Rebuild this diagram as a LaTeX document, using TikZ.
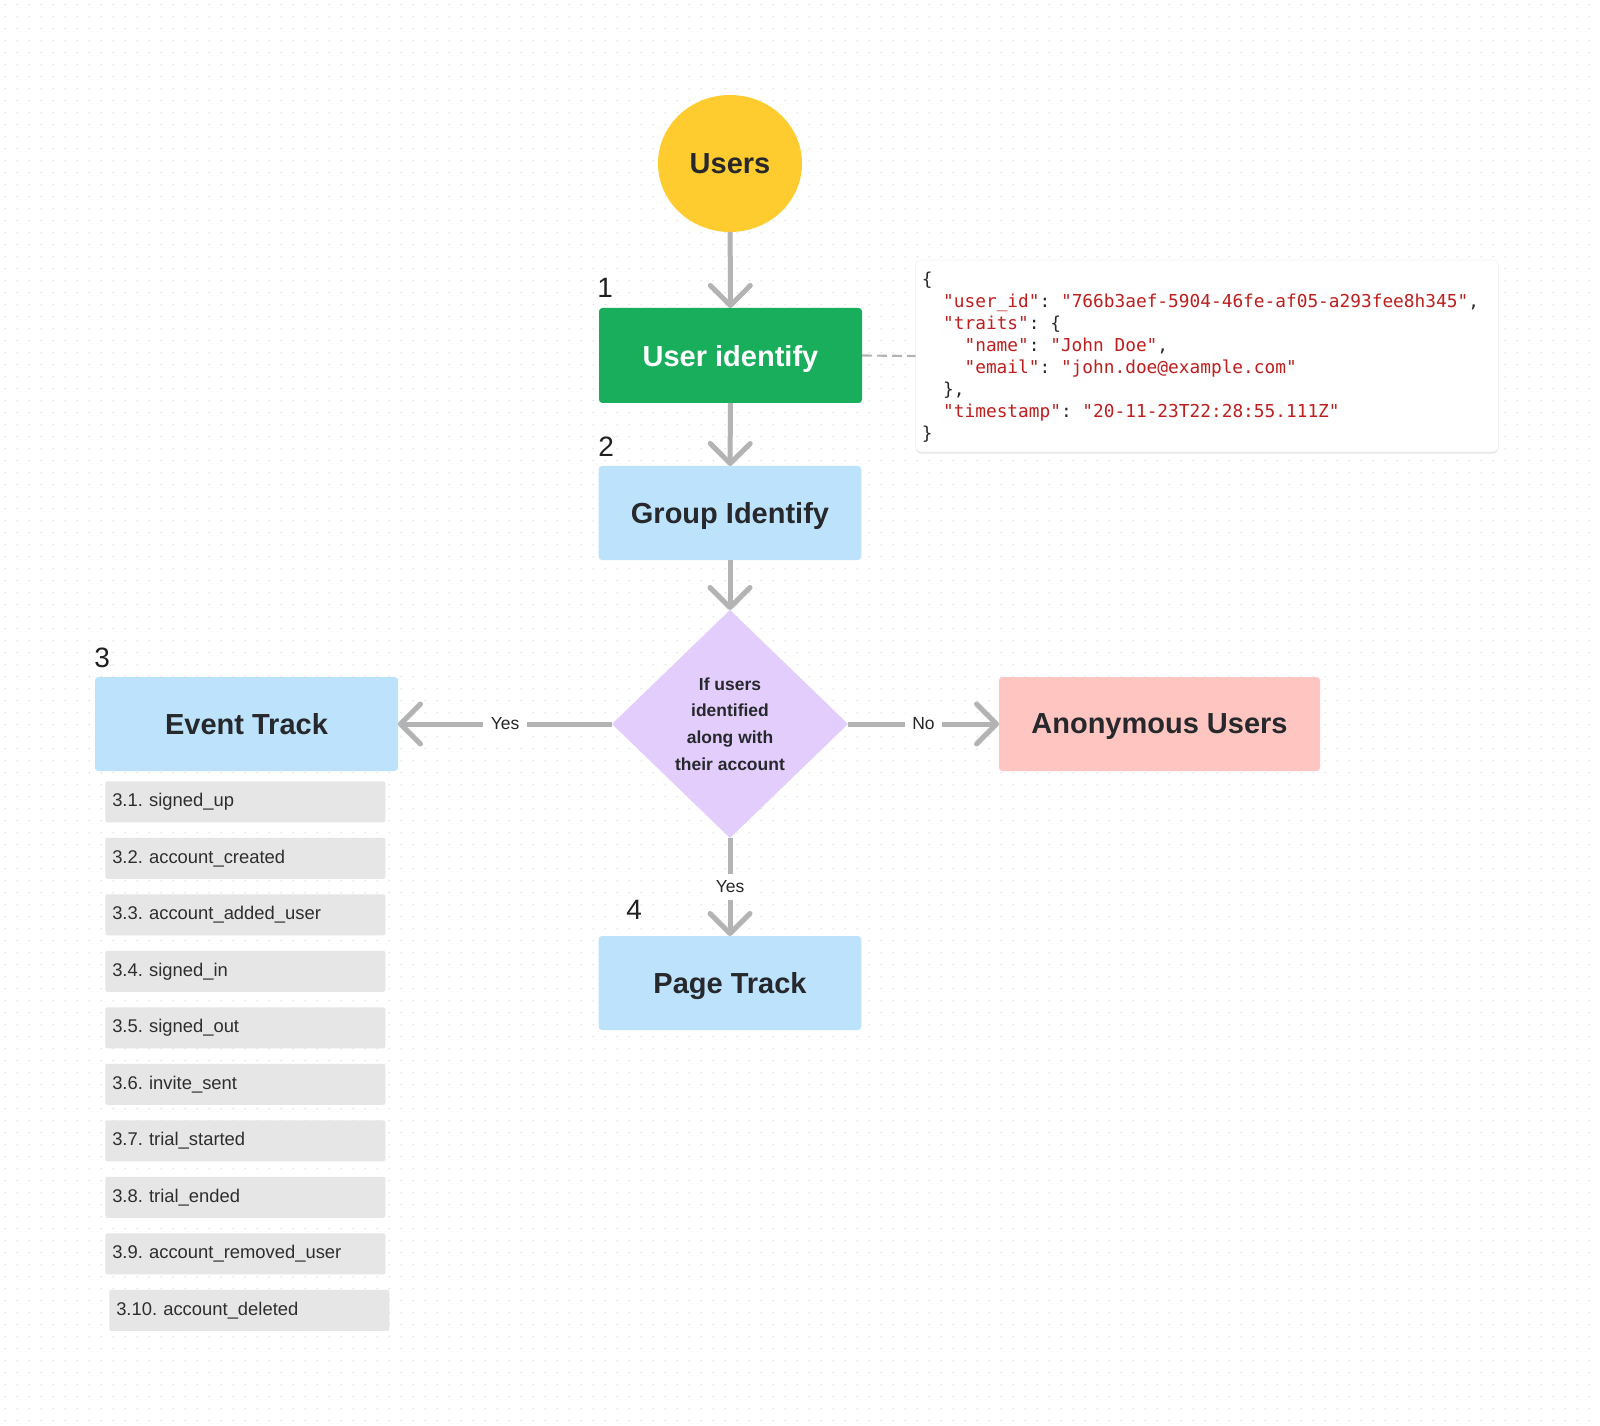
\documentclass[tikz,border=0pt]{standalone}
\usepackage{fontspec}
\setmainfont{Liberation Sans}
\setmonofont{DejaVu Sans Mono}
\usetikzlibrary{arrows.meta,shapes.geometric,shadows,patterns}
\frenchspacing

\definecolor{usersyellow}{RGB}{254,204,46}
\definecolor{idgreen}{RGB}{24,174,92}
\definecolor{trackblue}{RGB}{189,227,252}
\definecolor{decisionlilac}{RGB}{227,205,253}
\definecolor{anonpink}{RGB}{255,198,193}
\definecolor{eventgray}{RGB}{230,230,230}
\definecolor{flowgray}{RGB}{179,179,179}
\definecolor{inkdark}{RGB}{38,40,44}
\definecolor{jsonred}{RGB}{190,30,30}
\definecolor{jsonink}{RGB}{40,40,40}
\definecolor{griddot}{RGB}{224,224,224}

% dotted canvas tile (11.87px pitch)
\pgfdeclarepatternformonly{canvasdots}{\pgfpointorigin}{\pgfpoint{8.9pt}{8.9pt}}%
  {\pgfpoint{8.9pt}{8.9pt}}%
  {\pgfpathrectangle{\pgfpoint{3.5pt}{3.5pt}}{\pgfpoint{1.05pt}{1.05pt}}\pgfusepath{fill}}

% JSON helpers
\newcommand{\jstr}[1]{\textcolor{jsonred}{"#1"}}

\tikzset{
  bigtext/.style={font=\fontsize{21.75}{26}\selectfont\bfseries, text depth=0pt},
  stepnum/.style={anchor=base west, inner sep=0pt, text=black!88,
    font=\fontsize{21}{24}\selectfont},
  procbox/.style={rectangle, rounded corners=2.5pt, outer sep=0pt,
    minimum width=197pt, minimum height=70.5pt, inner sep=0pt, bigtext},
  trackbox/.style={procbox, fill=trackblue, text=inkdark},
  decision/.style={diamond, fill=decisionlilac, outer sep=0pt, inner sep=0pt,
    minimum width=177pt, minimum height=171pt, align=center, text=inkdark,
    font=\fontsize{13.1}{20}\selectfont\bfseries},
  evitem/.style={rectangle, rounded corners=1.5pt, fill=eventgray, anchor=north west,
    minimum height=30.75pt, inner xsep=5.25pt, inner ysep=0pt,
    text width=199.5pt, align=left, text=black!82,
    font=\fontsize{13.8}{16}\selectfont},
  flow/.style={draw=flowgray, line width=3.75pt,
    -{Straight Barb[length=15pt,width=30pt,round]}},
  flowlabel/.style={fill=white, inner xsep=5.5pt, inner ysep=5pt, text=black!85,
    font=\fontsize{13.1}{15}\selectfont},
  jsonbox/.style={rectangle, rounded corners=4.5pt, fill=white, draw=black!5,
    line width=0.5pt, outer sep=0pt, minimum width=437.25pt, minimum height=144pt,
    drop shadow={shadow xshift=0pt, shadow yshift=-1.2pt, opacity=0.10, fill=black}},
  jsonline/.style={anchor=base west, inner sep=0pt, text=jsonink,
    font=\ttfamily\fontsize{13.35}{15}\selectfont},
  notelink/.style={draw=flowgray, line width=1.6pt, dash pattern=on 7.5pt off 3.75pt},
}

\begin{document}
\begin{tikzpicture}[x=0.75pt, y=-0.75pt]
  % canvas and dotted grid
  \useasboundingbox (0,0) rectangle (1600,1426);
  \fill[white] (0,0) rectangle (1600,1426);
  \fill[pattern=canvasdots, pattern color=griddot] (0,0) rectangle (1600,1426);

  % main flow
  \node[ellipse, fill=usersyellow, outer sep=0pt, inner sep=0pt,
        minimum width=108pt, minimum height=102.75pt, bigtext, text=inkdark]
        (users) at (730,163.5) {Users};
  \node[procbox, fill=idgreen, text=white, minimum width=197.25pt, minimum height=71.25pt]
        (uid) at (730.5,355.5) {User identify};
  \node[trackbox] (grp) at (730,513) {Group Identify};
  \node[decision] (dec) at (730,724) {If users\\identified\\along with\\their account};
  \node[trackbox, minimum width=227.25pt] (evt) at (246.5,724) {Event Track};
  \node[procbox, fill=anonpink, text=inkdark, minimum width=240.75pt]
        (anon) at (1159.5,724) {Anonymous Users};
  \node[trackbox] (page) at (730,983) {Page Track};

  % step numbers
  \node[stepnum] (n1) at (597,298) {1};
  \node[stepnum] (n2) at (598,457) {2};
  \node[stepnum] (n3) at (94,667) {3};
  \node[stepnum] (n4) at (626,919) {4};

  % connectors
  \draw[flow] (users) -- (uid);
  \draw[flow] (uid) -- (grp);
  \draw[flow] (grp) -- (dec.north);
  \draw[flow] (dec.west) -- (evt.east) node[midway, flowlabel] (lyes) {Yes};
  \draw[flow] (dec.east) -- (anon.west) node[midway, flowlabel] (lno) {No};
  \draw[flow] (dec.south) -- (page.north) node[midway, flowlabel] (lyes2) {Yes};

  % tracked events
  \foreach \k/\ev in {1/signed\_up, 2/account\_created, 3/account\_added\_user,
      4/signed\_in, 5/signed\_out, 6/invite\_sent, 7/trial\_started,
      8/trial\_ended, 9/account\_removed\_user} {
    \node[evitem] (ev\k) at (105, {781+(\k-1)*56.5}) {3.\k. \ev};
  }
  \node[evitem] (ev10) at (109, {781+9*56.5}) {3.10. account\_deleted};

  % identify payload
  \node[jsonbox] (json) at (1207,356) {};
  \draw[notelink] (uid.east) -- (json.west);
  \node[jsonline] (j1) at (921.5,286) {\{};
  \node[jsonline] (j2) at (942.9,308) {\jstr{user\_id}: \jstr{766b3aef-5904-46fe-af05-a293fee8h345},};
  \node[jsonline] (j3) at (942.9,330) {\jstr{traits}: \{};
  \node[jsonline] (j4) at (964.3,352) {\jstr{name}: \jstr{John Doe},};
  \node[jsonline] (j5) at (964.3,374) {\jstr{email}: \jstr{john.doe@example.com}};
  \node[jsonline] (j6) at (942.9,396) {\},};
  \node[jsonline] (j7) at (942.9,418) {\jstr{timestamp}: \jstr{20-11-23T22:28:55.111Z}};
  \node[jsonline] (j8) at (921.5,440) {\}};
\end{tikzpicture}
\end{document}
